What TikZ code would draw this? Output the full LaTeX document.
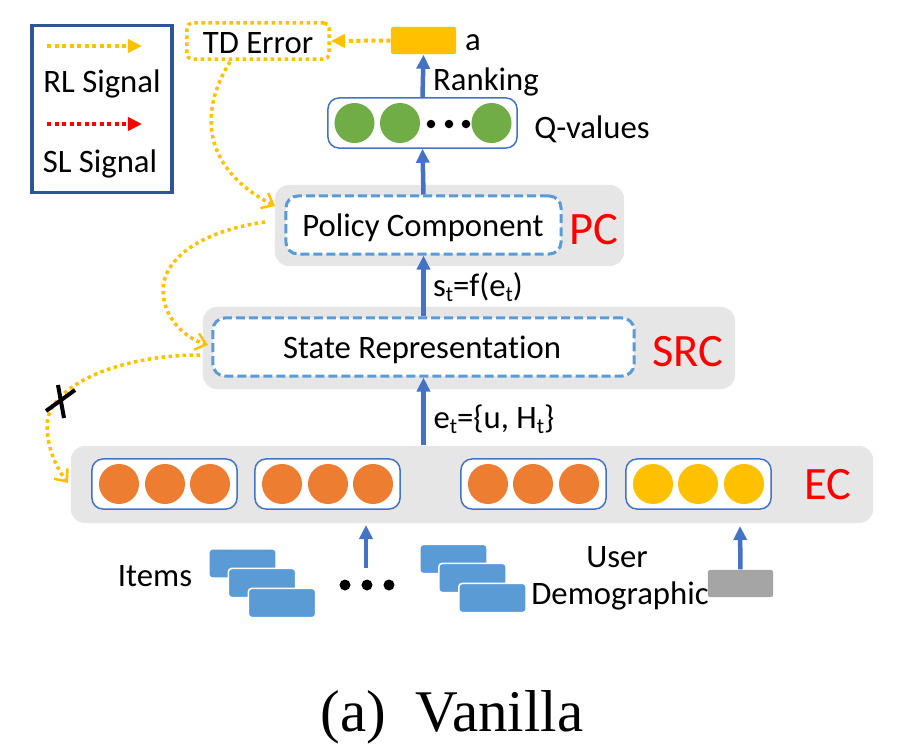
\documentclass[tikz,border=0pt]{standalone}
\usepackage{fontspec}
\setmainfont[Ligatures=NoCommon]{Carlito}
\newfontfamily\capfont{Liberation Serif}
\usetikzlibrary{arrows.meta,calc}
\definecolor{rlc}{HTML}{FFC000}
\definecolor{flowc}{HTML}{4472C4}
\definecolor{dashc}{HTML}{5B9BD5}
\definecolor{panelc}{HTML}{E7E6E6}
\definecolor{legc}{HTML}{2F5597}
\definecolor{itemc}{HTML}{ED7D31}
\definecolor{qc}{HTML}{70AD47}
\definecolor{userc}{HTML}{A5A5A5}
\newcommand{\lowt}{\raisebox{-0.35ex}{\fontsize{6.2pt}{7pt}\selectfont t}}
\tikzset{
  lab/.style={font=\fontsize{9.3pt}{11pt}\selectfont,align=center,inner sep=0},
  tag/.style={font=\fontsize{13.2pt}{14pt}\selectfont,text=red,inner sep=0},
  panel/.style={fill=panelc,rounded corners=0.14cm,inner sep=0},
  dashbox/.style={draw=dashc,line width=0.03cm,dash pattern=on 0.09cm off 0.04cm,fill=white,rounded corners=0.12cm,inner sep=0},
  cellbox/.style={draw=flowc,line width=0.015cm,fill=white,rounded corners=0.11cm,inner sep=0,minimum width=1.45cm,minimum height=0.5cm},
  dot/.style={circle,fill=#1,inner sep=0,minimum size=0.4cm},
  tiny dot/.style={circle,fill=black,inner sep=0,minimum size=0.085cm},
  chip/.style={fill=dashc,draw=white,line width=0.015cm,rounded corners=0.03cm,inner sep=0,minimum width=0.67cm,minimum height=0.29cm},
  flow/.style={-{Triangle[length=0.14cm,width=0.13cm]},draw=flowc,line width=0.045cm},
  rl/.style={-{Triangle[length=0.14cm,width=0.13cm]},draw=#1,line width=0.04cm,dash pattern=on 0.04cm off 0.035cm},
  rlcurve/.style={-{Straight Barb[length=0.1cm,width=0.17cm,line width=0.025cm]},draw=rlc,line width=0.035cm,dash pattern=on 0.035cm off 0.035cm},
}

\begin{document}
\begin{tikzpicture}[x=0.01cm,y=-0.01cm]
\useasboundingbox (0,0) rectangle (905,754);

% legend
\node[draw=legc,line width=0.035cm,fill=white,inner sep=0,minimum width=1.4cm,minimum height=1.67cm] (legend) at (102,109) {};
\coordinate (rlstart) at (47,46);
\coordinate (rlend) at (142,46);
\coordinate (slstart) at (47,124);
\coordinate (slend) at (142,124);
\draw[rl=rlc] (rlstart) -- (rlend);
\draw[rl=red] (slstart) -- (slend);
\node[lab] (rltext) at (102,84) {RL Signal};
\node[lab] (sltext) at (100,164) {SL Signal};

% top row
\node[draw=rlc,line width=0.035cm,dash pattern=on 0.035cm off 0.035cm,rounded corners=0.05cm,inner sep=0,minimum width=1.42cm,minimum height=0.36cm] (tderror) at (258,41) {};
\node[lab] (tdtext) at (258,43) {TD Error};
\node[fill=rlc,rounded corners=0.02cm,inner sep=0,minimum width=0.65cm,minimum height=0.27cm] (action) at (423.5,40.5) {};
\node[lab] (atext) at (473,43) {a};
\node[lab] (ranking) at (486,82) {Ranking};

% q values
\node[cellbox,minimum width=1.89cm] (qbox) at (422.5,123) {};
\node[dot=qc] (q1) at (354.5,123) {};
\node[dot=qc] (q2) at (400,123) {};
\node[dot=qc] (q3) at (491.5,123) {};
\node[tiny dot] (qd1) at (431,124) {};
\node[tiny dot] (qd2) at (449,124) {};
\node[tiny dot] (qd3) at (466,124) {};
\node[lab] (qtext) at (592,129) {Q-values};

% panels
\node[panel,minimum width=3.49cm,minimum height=0.81cm] (pcpanel) at (449.5,225.5) {};
\node[dashbox,minimum width=2.75cm,minimum height=0.58cm] (pcbox) at (423.5,225) {};
\node[lab] (pctext) at (423,228) {Policy Component};
\node[tag] (pctag) at (594,230) {PC};
\node[lab] (sttext) at (478,287) {s\lowt=f(e\lowt)};

\node[panel,minimum width=5.32cm,minimum height=0.82cm] (srcpanel) at (469,348) {};
\node[dashbox,minimum width=4.21cm,minimum height=0.58cm] (srcbox) at (423.5,347) {};
\node[lab] (srctext) at (422,350) {State Representation};
\node[tag] (srctag) at (688,352) {SRC};
\node[lab] (ettext) at (494,419) {e\lowt=\{u, H\lowt\}};

\node[panel,minimum width=8.02cm,minimum height=0.77cm] (ecpanel) at (472,484.5) {};
\node[tag] (ectag) at (828,485) {EC};

% embedding cells
\node[cellbox] (cella) at (164.5,484) {};
\node[cellbox] (cellb) at (327.5,484) {};
\node[cellbox] (cellc) at (533.5,484) {};
\node[cellbox] (celld) at (698.5,484) {};
\foreach \cx/\nm/\col in {119/a1/itemc,165/a2/itemc,210/a3/itemc,282/b1/itemc,328/b2/itemc,373/b3/itemc,488/c1/itemc,533/c2/itemc,579/c3/itemc,653/d1/rlc,698/d2/rlc,744/d3/rlc}
  \node[dot=\col] (\nm) at (\cx,484) {};

% items
\node[lab] (items) at (155,576) {Items};
\node[chip] (chipa) at (242.5,563.5) {};
\node[chip] (chipb) at (262,583) {};
\node[chip] (chipc) at (282,603) {};
\node[chip] (chipd) at (453.5,559) {};
\node[chip] (chipe) at (472.5,578) {};
\node[chip] (chipf) at (492.5,598) {};
\node[tiny dot,minimum size=0.11cm] (id1) at (345,585) {};
\node[tiny dot,minimum size=0.11cm] (id2) at (367,585) {};
\node[tiny dot,minimum size=0.11cm] (id3) at (389,585) {};
\coordinate (itemstart) at (366,568);
\coordinate (itemend) at (366,525);
\draw[flow] (itemstart) -- (itemend);

% user
\node[lab] (user) at (617,557) {User};
\node[lab] (demo) at (620,596) {Demographic};
\node[fill=userc,rounded corners=0.02cm,inner sep=0,minimum width=0.65cm,minimum height=0.27cm] (userbox) at (740.5,583.5) {};
\coordinate (userend) at (740,526);
\draw[flow] (userbox.north) -- (userend);

% main flow
\draw[flow] (ecpanel.north -| srcbox) -- (srcbox.south);
\draw[flow] (srcbox.north) -- (pcbox.south);
\draw[flow] (pcbox.north) -- (qbox.south);
\draw[flow] (qbox.north) -- (action.south);
\draw[rl=rlc] (action.west) -- (tderror.east);

% rl curves
\coordinate (pcout) at (265,222);
\coordinate (pcin) at (275,206);
\coordinate (srcout) at (200,355);
\coordinate (srcin) at (208,345);
\coordinate (ecin) at (68,483);
\draw[rlcurve] (tderror.south) ++(-28,1) .. controls (197,115) and (205,170) .. (pcin);
\draw[rlcurve] (pcout) .. controls (195,232) and (163,262) .. (163,290) .. controls (163,318) and (185,338) .. (srcin);
\draw[rlcurve] (srcout) .. controls (120,355) and (48,385) .. (47,425) .. controls (47,450) and (58,470) .. (ecin);

% cut mark
\coordinate (cuta) at (46,411);
\coordinate (cutb) at (75,390);
\coordinate (cutc) at (58,385);
\coordinate (cutd) at (64,418);
\draw[line width=0.04cm] (cuta) -- (cutb);
\draw[line width=0.04cm] (cutc) -- (cutd);

\node[font=\capfont\fontsize{16.8pt}{18pt}\selectfont,inner sep=0] (caption) at (452,717) {(a)\ \ Vanilla};
\end{tikzpicture}
\end{document}
